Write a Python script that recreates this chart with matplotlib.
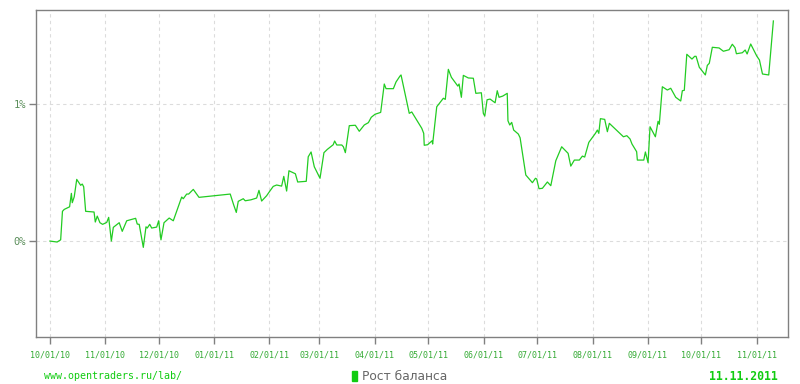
import matplotlib
matplotlib.use("Agg")
import matplotlib.pyplot as plt
import matplotlib.dates as mdates
import matplotlib.patches as mpatches
import numpy as np
import pandas as pd

# Days elapsed since 2010-10-01 and balance growth (%)
days = [0, 4, 6, 7, 8, 11, 12, 12.5, 13.6, 15, 17.2, 18.1, 18.9, 20, 24.7, 25.4, 26.5, 28, 29.5, 31.8,
        32.9, 34.4, 35.5, 38.8, 40.5, 43, 48, 48.9, 50, 52.3, 53.8, 54.5, 55.9, 57, 59.8, 60.9, 62.2,
        63.9, 66.8, 69.1, 73.8, 74.7, 76.6, 77.7, 80.3, 83.5, 101, 102.9, 104.4, 105.5, 108.3, 109.4,
        112.6, 115.8, 117.1, 118.6, 121.4, 123.1, 125.1, 127, 129.8, 131, 132.6, 133.9, 137.5, 138.8,
        143.6, 144.7, 146.3, 148.1, 151.3, 153.5, 155.4, 158.7, 159.5, 160.7, 163.5, 164.4, 165.5,
        167.7, 171.1, 173.3, 176.1, 178.4, 180, 182.1, 185.3, 187.3, 188.3, 192.4, 193.9, 196.1, 196.7,
        201.3, 202.7, 208.3, 209.4, 209.7, 211.6, 214.1, 214.4, 216.7, 220.4, 221.5, 223.2, 224.9,
        228.5, 229.2, 230.5, 231.6, 234.4, 237.2, 238.6, 241.7, 242.8, 243.6, 244.9, 246.6, 249.4,
        250.6, 251.6, 253.7, 256.2, 256.6, 257.6, 258.7, 259.8, 262.4, 263.4, 266.6, 270.3, 272,
        272.7, 274, 275.9, 278.7, 280.6, 283.4, 286.7, 290.3, 291.8, 293.8, 296.6, 298.3, 299.6,
        301.9, 305.6, 306.7, 307.5, 308.4, 310.8, 312.3, 313.4, 321.3, 323.2, 325, 326.1, 328.7,
        329.1, 332.7, 333.6, 335.1, 336.2, 339.2, 340.7, 341.4, 343.1, 345.9, 347.8, 350.6, 353.4,
        354.3, 355.4, 356.8, 359.7, 361.2, 362, 363.8, 367.2, 368.3, 369.4, 371.1, 374.9, 377.3,
        380.5, 382.3, 383.8, 384.6, 387.9, 389.5, 390.6, 392.6, 396, 397.5, 399.2, 402.7, 405.3]

growth = [0.000, -0.007, 0.009, 0.217, 0.231, 0.250, 0.348, 0.280, 0.323, 0.450, 0.407, 0.416, 0.396,
          0.217, 0.212, 0.139, 0.182, 0.134, 0.122, 0.136, 0.173, 0.000, 0.100, 0.134, 0.071, 0.148,
          0.166, 0.124, 0.122, -0.046, 0.104, 0.095, 0.122, 0.095, 0.102, 0.148, 0.009, 0.134, 0.168,
          0.148, 0.321, 0.309, 0.343, 0.343, 0.377, 0.319, 0.343, 0.265, 0.209, 0.290, 0.309, 0.294,
          0.301, 0.314, 0.370, 0.292, 0.331, 0.363, 0.399, 0.409, 0.401, 0.472, 0.365, 0.513, 0.491,
          0.431, 0.436, 0.615, 0.650, 0.542, 0.458, 0.645, 0.669, 0.703, 0.730, 0.701, 0.701, 0.688,
          0.645, 0.842, 0.845, 0.801, 0.847, 0.864, 0.903, 0.925, 0.939, 1.146, 1.112, 1.112, 1.161,
          1.204, 1.212, 0.932, 0.942, 0.823, 0.786, 0.699, 0.703, 0.732, 0.708, 0.980, 1.042, 1.034,
          1.253, 1.195, 1.131, 1.146, 1.049, 1.209, 1.190, 1.188, 1.078, 1.082, 0.932, 0.912, 1.031,
          1.036, 1.009, 1.097, 1.049, 1.058, 1.078, 0.878, 0.847, 0.866, 0.810, 0.781, 0.754, 0.482,
          0.426, 0.458, 0.453, 0.382, 0.385, 0.431, 0.404, 0.586, 0.688, 0.640, 0.547, 0.591, 0.591,
          0.620, 0.613, 0.720, 0.786, 0.810, 0.786, 0.893, 0.888, 0.798, 0.859, 0.761, 0.769, 0.745,
          0.708, 0.652, 0.591, 0.591, 0.650, 0.572, 0.834, 0.761, 0.874, 0.852, 1.126, 1.102, 1.115,
          1.049, 1.022, 1.097, 1.100, 1.363, 1.328, 1.348, 1.348, 1.268, 1.212, 1.282, 1.297, 1.414,
          1.409, 1.385, 1.396, 1.436, 1.411, 1.367, 1.374, 1.394, 1.365, 1.438, 1.350, 1.321, 1.219,
          1.212, 1.606]

start_date = "2010-10-01"
tick_dates = ["2010-10-01", "2010-11-01", "2010-12-01", "2011-01-01", "2011-02-01", "2011-03-01",
              "2011-04-01", "2011-05-01", "2011-06-01", "2011-07-01", "2011-08-01", "2011-09-01",
              "2011-10-01", "2011-11-01"]
y_ticks = [0, 1]
y_tick_labels = ["0%", "1%"]
legend_label = "Рост баланса"
site_text = "www.opentraders.ru/lab/"
date_text = "11.11.2011"

t0 = pd.Timestamp(start_date)
dates = [t0 + pd.Timedelta(days=d) for d in days]
ticks = [pd.Timestamp(d) for d in tick_dates]

fig = plt.figure(figsize=(8, 3.84), dpi=100)
ax = fig.add_axes([35.5 / 800, 1 - 337 / 384, (788 - 35.5) / 800, (337 - 10) / 384])

line_color = "#22cc22"
ax.plot(dates, growth, color=line_color, lw=0.9)

ax.set_xlim(t0 - pd.Timedelta(days=8.1), t0 + pd.Timedelta(days=413.5))
ax.set_ylim(-0.70, 1.686)

ax.set_xticks(ticks)
ax.set_xticklabels([t.strftime("%m/%d/%y") for t in ticks])
ax.set_yticks(y_ticks)
ax.set_yticklabels(y_tick_labels)

for s in ax.spines.values():
    s.set_color("#808080")
    s.set_linewidth(1.0)

ax.grid(True, color="#dcdcdc", linestyle=(0, (3, 3)), linewidth=0.8)
ax.set_axisbelow(True)
ax.tick_params(axis="both", colors="#808080", length=5, width=1, direction="out")
ax.tick_params(axis="x", labelsize=6.0, labelcolor="#33aa33", pad=5)
ax.tick_params(axis="y", labelsize=7.5, labelcolor="#5c8f5c", pad=2)
for lab in ax.get_xticklabels() + ax.get_yticklabels():
    lab.set_family("DejaVu Sans Mono")

fig.text(44 / 800, 1 - 376 / 384, site_text, color="#11cc11", fontsize=7.2,
         family="DejaVu Sans Mono", va="center", ha="left")
fig.text(778 / 800, 1 - 376 / 384, date_text, color="#11cc11", fontsize=8.3,
         family="DejaVu Sans Mono", weight="bold", va="center", ha="right")
fig.patches.append(mpatches.Rectangle((352 / 800, 1 - 381 / 384), 5 / 800, 10 / 384,
                                      transform=fig.transFigure, color="#11cc11"))
fig.text(362 / 800, 1 - 376 / 384, legend_label, color="#666666", fontsize=8.8,
         family="DejaVu Sans", va="center", ha="left")

fig.savefig("out.png", dpi=100)
